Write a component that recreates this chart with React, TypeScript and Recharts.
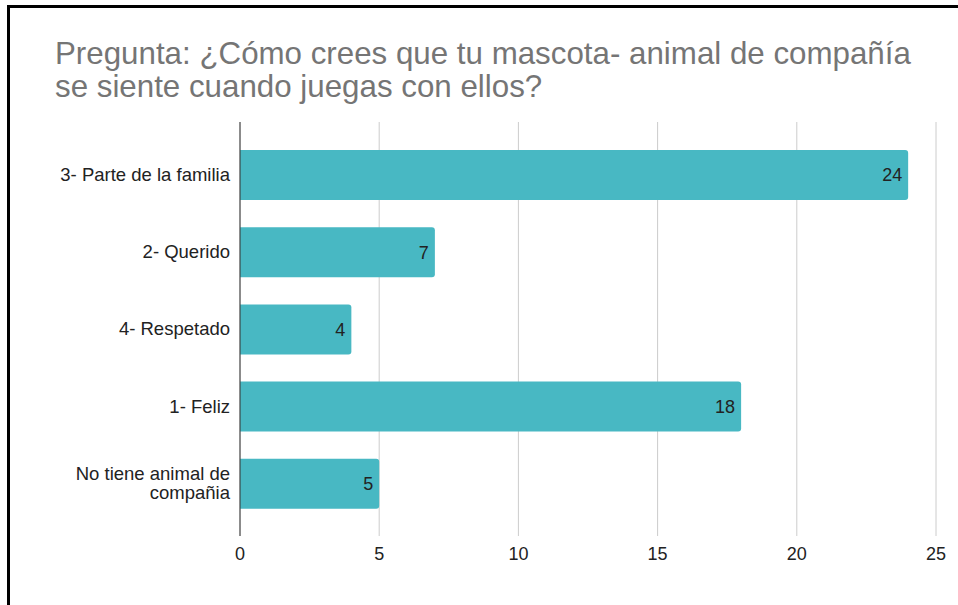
import { BarChart, Bar, XAxis, YAxis, CartesianGrid, LabelList } from "recharts";

// Respuestas (en el orden del gráfico, de arriba abajo)
const categories = [
  "3- Parte de la familia",
  "2- Querido",
  "4- Respetado",
  "1- Feliz",
  "No tiene animal de compañia",
];
const values = [24, 7, 4, 18, 5];
const xTicks = [0, 5, 10, 15, 20, 25];

const TITLE_1 = "Pregunta: ¿Cómo crees que tu mascota- animal de compañía";
const TITLE_2 = "se siente cuando juegas con ellos?";

const data = categories.map((name, i) => ({ name, value: values[i] }));

const FONT = "'Liberation Sans', Arial, sans-serif";

// wrap long category names onto two lines, like the original
function wrap(s: string, max = 22): string[] {
  if (s.length <= max) return [s];
  const cut = s.lastIndexOf(" ", max);
  return [s.slice(0, cut), s.slice(cut + 1)];
}

function CategoryTick(props: any) {
  const { x, y, payload } = props;
  const lines = wrap(String(payload.value));
  const lh = 19;
  const start = -((lines.length - 1) * lh) / 2;
  return (
    <text x={x} y={y} textAnchor="end" fill="#222" fontSize={18.5} fontFamily={FONT}>
      {lines.map((l, i) => (
        <tspan key={i} x={x} y={y + start + i * lh} dy="0.35em">
          {l}
        </tspan>
      ))}
    </text>
  );
}

export default function App() {
  return (
    <div
      style={{
        position: "absolute",
        left: 0,
        top: 0,
        width: 958,
        height: 605,
        background: "#fff",
        overflow: "hidden",
        fontFamily: FONT,
      }}
    >
      {/* frame edges visible in the screenshot */}
      <div
        style={{
          position: "absolute",
          left: 7,
          top: 5,
          width: 960,
          height: 610,
          borderTop: "3px solid #000",
          borderLeft: "3px solid #000",
        }}
      />
      <div
        style={{
          position: "absolute",
          left: 55,
          top: 37,
          fontSize: 31.3,
          lineHeight: "33px",
          color: "#757575",
          whiteSpace: "nowrap",
        }}
      >
        <div>{TITLE_1}</div>
        <div>{TITLE_2}</div>
      </div>
      <div style={{ position: "absolute", left: 0, top: 0 }}>
        <BarChart
          width={958}
          height={605}
          data={data}
          layout="vertical"
          margin={{ top: 122, right: 22, bottom: 39, left: 8 }}
        >
          <CartesianGrid horizontal={false} stroke="#cccccc" />
          <XAxis
            type="number"
            domain={[0, 25]}
            ticks={xTicks}
            height={30}
            axisLine={false}
            tickLine={false}
            tickMargin={5}
            tick={{ fontSize: 18, fill: "#222", fontFamily: FONT }}
          />
          <YAxis
            type="category"
            dataKey="name"
            width={232}
            padding={{ top: 14, bottom: 14 }}
            axisLine={{ stroke: "#333" }}
            tickLine={false}
            tick={<CategoryTick />}
            tickMargin={4}
            interval={0}
          />
          <Bar dataKey="value" fill="#48B8C3" barSize={50} radius={[0, 3, 3, 0]} isAnimationActive={false}>
            <LabelList
              dataKey="value"
              position="insideRight"
              offset={6}
              fill="#222"
              fontSize={18}
              fontFamily={FONT}
            />
          </Bar>
        </BarChart>
      </div>
    </div>
  );
}
